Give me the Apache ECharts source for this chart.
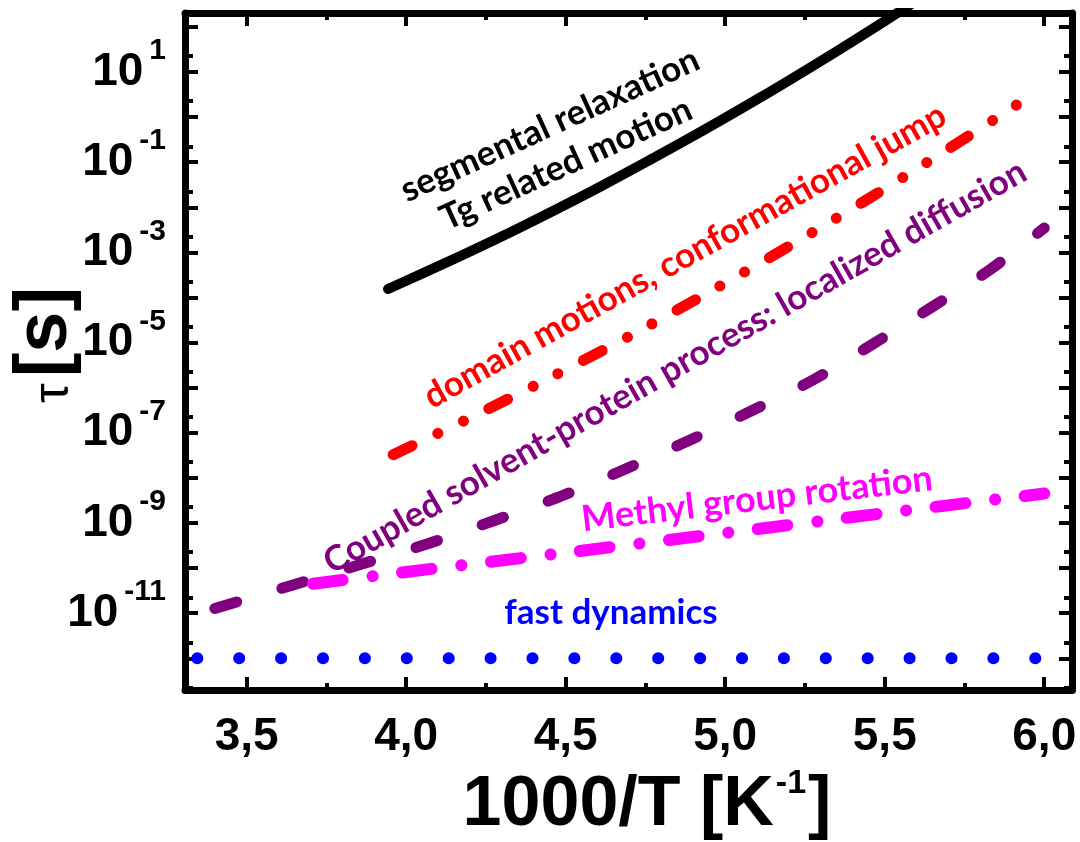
<!DOCTYPE html>
<html>
<head>
<meta charset="utf-8">
<script src="https://cdn.jsdelivr.net/npm/echarts@6/dist/echarts.min.js"></script>
<style>html,body{margin:0;padding:0;background:#fff;}#c{width:1080px;height:842px;}</style>
</head>
<body>
<div id="c"></div>
<script>
// ---- data (1000/T in K^-1, tau in s) ----
const segX   = [3.943, 4.137, 4.357, 4.608, 4.858, 5.109, 5.360, 5.548, 5.736];
const segTau = [1.54e-4, 6.49e-4, 3.58e-3, 2.86e-2, 0.260, 2.70, 32.1, 222, 1660];

const domX   = [3.959, 4.200, 4.451, 4.702, 4.952, 5.203, 5.454, 5.704, 5.945];
const domTau = [3.27e-8, 2.14e-7, 1.67e-6, 1.42e-5, 1.35e-4, 1.41e-3, 1.63e-2, 0.207, 2.6];

const coupX   = [3.40, 3.645, 3.861, 4.065, 4.272, 4.479, 4.680, 4.883, 5.081, 5.275, 5.463, 5.648, 5.833, 6.0];
const coupTau = [1.27e-11, 4.22e-11, 1.23e-10, 3.42e-10, 1.11e-9, 3.77e-9, 1.50e-8, 6.58e-8, 3.04e-7, 1.48e-6, 9.31e-6, 6.15e-5, 4.29e-4, 3.48e-3];

const methX   = [3.708, 4.0, 4.5, 5.0, 5.5, 6.0];
const methTau = [4.5e-11, 8.2e-11, 2.2e-10, 6.0e-10, 1.66e-9, 4.5e-9];

const fastX   = [3.345, 6.0];
const fastTau = [1e-12, 1e-12];

const xTicks      = [3.5, 4.0, 4.5, 5.0, 5.5, 6.0];
const xTickLabels = ['3,5', '4,0', '4,5', '5,0', '5,5', '6,0'];
const xMinorTicks = [3.75, 4.25, 4.75, 5.25, 5.75];
const yDecades    = [-12, -11, -10, -9, -8, -7, -6, -5, -4, -3, -2, -1, 0, 1, 2];
const yLabelExps  = [1, -1, -3, -5, -7, -9, -11];

// ---- chart ----
const X_MIN = 3.3066, X_MAX = 6.087, Y_MIN = -12.703, Y_MAX = 2.308;
const yMinor = [];
for (let n = -13; n <= 2; n++) { const v = n + 0.352; if (v > Y_MIN && v < Y_MAX) yMinor.push(v); }

const pts = (xs, ts) => xs.map((x, i) => [x, Math.log10(ts[i])]);
const AX = 'Liberation Sans';
const ANN = 'Lato';

function xAx(pos, major, showLine) {
  return {
    type: 'value', min: X_MIN, max: X_MAX, position: pos,
    axisLine: { show: showLine, onZero: false, lineStyle: { color: '#000', width: 7 } },
    axisTick: { show: true, inside: true, length: major ? 13 : 7, lineStyle: { color: '#000', width: 4 },
                customValues: major ? xTicks : xMinorTicks },
    axisLabel: (pos === 'bottom' && major) ? {
      show: true, customValues: xTicks, margin: 24,
      fontFamily: AX, fontWeight: 'bold', fontSize: 46, color: '#000',
      formatter: v => { const i = xTicks.findIndex(t => Math.abs(t - v) < 1e-6); return i >= 0 ? xTickLabels[i] : ''; }
    } : { show: false },
    splitLine: { show: false }
  };
}
function yAx(pos, major, showLine) {
  return {
    type: 'value', min: Y_MIN, max: Y_MAX, position: pos,
    axisLine: { show: showLine, onZero: false, lineStyle: { color: '#000', width: 7 } },
    axisTick: { show: true, inside: true, length: major ? 13 : 8, lineStyle: { color: '#000', width: 4 },
                customValues: major ? yDecades : yMinor },
    axisLabel: (pos === 'left' && major) ? {
      show: true, customValues: yLabelExps, margin: 19, align: 'right',
      formatter: v => '{a|10}{b|' + Math.round(v) + '}',
      rich: {
        a: { fontFamily: AX, fontWeight: 'bold', fontSize: 46, color: '#000' },
        b: { fontFamily: AX, fontWeight: 'bold', fontSize: 30, color: '#000', padding: [0, 0, 42, 6] }
      }
    } : { show: false },
    splitLine: { show: false }
  };
}

const option = {
  animation: false,
  backgroundColor: '#fff',
  grid: { left: 185, right: 8, top: 13, bottom: 152, containLabel: false, outerBoundsMode: 'none' },
  xAxis: [xAx('bottom', true, true), xAx('bottom', false, false), xAx('top', true, true), xAx('top', false, false)],
  yAxis: [yAx('left', true, true), yAx('left', false, false), yAx('right', true, true), yAx('right', false, false)],
  series: [
    { type: 'line', data: pts(fastX, fastTau), symbol: 'none', lineStyle: { color: '#0000ff', width: 12, type: [0.1, 41.8], cap: 'round' } },
    { type: 'line', data: pts(coupX, coupTau), symbol: 'none', smooth: 0.3, lineStyle: { color: '#800080', width: 11, type: [23, 47], cap: 'round' } },
    { type: 'line', data: pts(methX, methTau), symbol: 'none', smooth: 0.3, lineStyle: { color: '#ff00ff', width: 12, type: [30, 30, 0.1, 29.5], cap: 'round' } },
    { type: 'line', data: pts(domX, domTau), symbol: 'none', smooth: 0.3, lineStyle: { color: '#ff0000', width: 11, type: [21, 28.5, 0.1, 28, 0.1, 28.5], cap: 'round' } },
    { type: 'line', data: pts(segX, segTau), symbol: 'none', smooth: 0.3, lineStyle: { color: '#000000', width: 10, type: 'solid', cap: 'round' } }
  ],
  graphic: [
    { type: 'text', x: 550, y: 125, rotation: 24.5 * Math.PI / 180, style: { text: 'segmental relaxation', font: 'bold 35px ' + ANN, fill: '#000', align: 'center', verticalAlign: 'middle' } },
    { type: 'text', x: 566, y: 164, rotation: 24.5 * Math.PI / 180, style: { text: 'Tg related motion', font: 'bold 35px ' + ANN, fill: '#000', align: 'center', verticalAlign: 'middle' } },
    { type: 'text', x: 685, y: 256, rotation: 29 * Math.PI / 180, style: { text: 'domain motions, conformational jump', font: 'bold 35px ' + ANN, fill: '#ff0000', align: 'center', verticalAlign: 'middle' } },
    { type: 'text', x: 675, y: 367, rotation: 29.6 * Math.PI / 180, style: { text: 'Coupled solvent-protein process: localized diffusion', font: 'bold 35px ' + ANN, fill: '#800080', align: 'center', verticalAlign: 'middle' } },
    { type: 'text', x: 757, y: 499, rotation: 6.7 * Math.PI / 180, style: { text: 'Methyl group rotation', font: 'bold 36px ' + ANN, fill: '#ff00ff', align: 'center', verticalAlign: 'middle' } },
    { type: 'text', x: 611, y: 613, rotation: 0, style: { text: 'fast dynamics', font: 'bold 35px ' + ANN, fill: '#0000ff', align: 'center', verticalAlign: 'middle' } },
    { type: 'text', x: 46, y: 345, rotation: Math.PI / 2, style: {
        text: '{t|τ}{s|[s]}', align: 'center', verticalAlign: 'middle',
        rich: {
          t: { fontFamily: AX, fontWeight: 'normal', fontSize: 50, fill: '#000', padding: [16, 6, 0, 0] },
          s: { fontFamily: AX, fontWeight: 'bold', fontSize: 74, fill: '#000' }
        } } },
    { type: 'text', x: 647, y: 806, style: {
        text: '{a|1000/T [K}{s|-1}{a|]}', align: 'center', verticalAlign: 'middle',
        rich: {
          a: { fontFamily: AX, fontWeight: 'bold', fontSize: 70, fill: '#000' },
          s: { fontFamily: AX, fontWeight: 'bold', fontSize: 34, fill: '#000', padding: [0, 2, 44, 2] }
        } } }
  ]
};
const chart = echarts.init(document.getElementById('c'));
chart.setOption(option);
</script>
</body>
</html>
